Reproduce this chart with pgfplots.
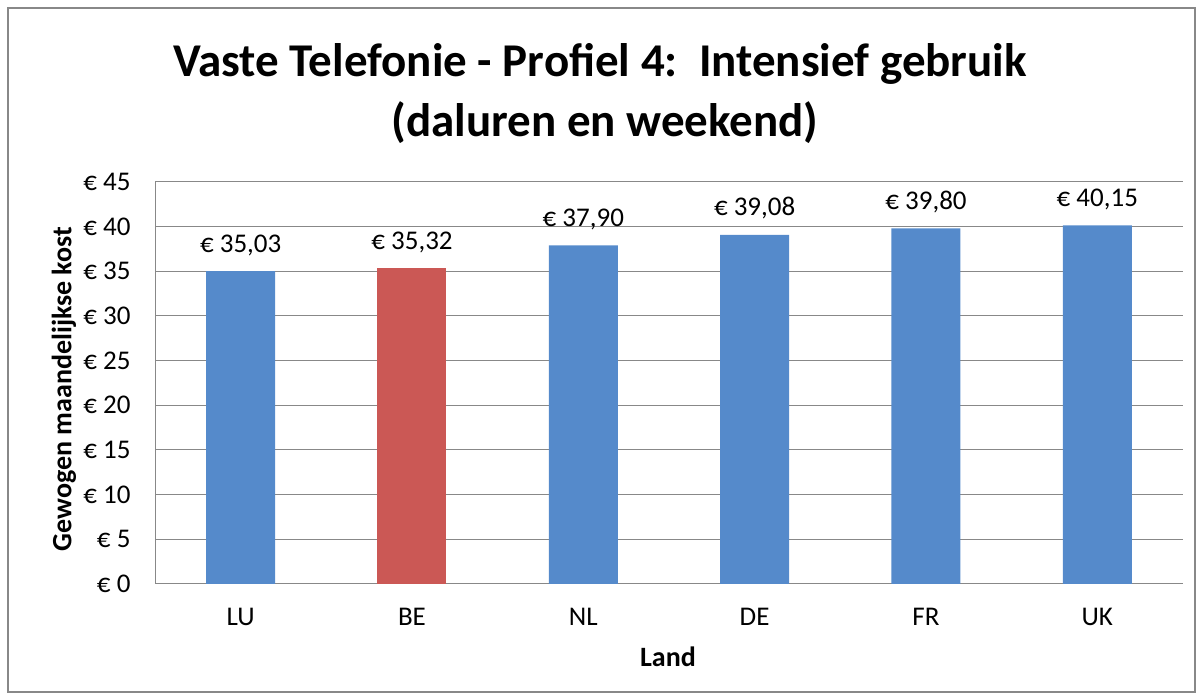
\documentclass[border=0pt]{standalone}
\usepackage{pgfplots}
\pgfplotsset{compat=1.18}
\usepackage{fontspec}
\setmainfont{Carlito}
\definecolor{barblue}{RGB}{85,138,203}
\definecolor{barred}{RGB}{203,88,85}
\definecolor{gridgray}{RGB}{136,136,136}
\begin{document}
\begin{tikzpicture}[x=1pt,y=1pt]
\path[use as bounding box] (0,0) rectangle (1203,700);
\draw[gridgray,line width=1.2pt] (8,8) rectangle (1195,692);
\node[font=\fontsize{47}{56}\selectfont\bfseries,anchor=base] at (600,623) {Vaste Telefonie - Profiel 4:\ \ Intensief gebruik};
\node[font=\fontsize{47}{56}\selectfont\bfseries,anchor=base] at (605,563) {(daluren en weekend)};
\begin{axis}[
  at={(155pt,116pt)}, anchor=south west,
  scale only axis, width=1028pt, height=402pt,
  xmin=-0.5, xmax=5.5, ymin=0, ymax=45,
  ytick={0,5,...,45},
  yticklabel={\texteuro\ \pgfmathprintnumber{\tick}},
  /pgf/number format/assume math mode=true,
  xtick={0,...,5}, xticklabels={LU,BE,NL,DE,FR,UK},
  axis lines=left, axis line style={gridgray,line width=1pt,-},
  ymajorgrids, grid style={gridgray,line width=1pt},
  major tick length=0pt,
  tick label style={font=\fontsize{27}{32}\selectfont},
  xticklabel style={anchor=base, yshift=-42pt},
  yticklabel style={anchor=east},
  yticklabel shift=21pt,
  ybar, bar width=69pt, bar shift=0pt,
  nodes near coords={\texteuro\ \pgfmathprintnumber[fixed,fixed zerofill,precision=2,use comma]{\pgfplotspointmeta}},
  nodes near coords style={font=\fontsize{27}{32}\selectfont,black,anchor=base,yshift=19pt},
  point meta=y,
]
\addplot[fill=barblue,draw=none] coordinates {(0,35.03) (2,37.90) (3,39.08) (4,39.80) (5,40.15)};
\addplot[fill=barred,draw=none] coordinates {(1,35.32)};
\end{axis}
\node[font=\fontsize{28}{34}\selectfont\bfseries,rotate=90] at (64,311) {Gewogen maandelijkse kost};
\node[font=\fontsize{28}{34}\selectfont\bfseries,anchor=base] at (668,33) {Land};
\end{tikzpicture}
\end{document}
